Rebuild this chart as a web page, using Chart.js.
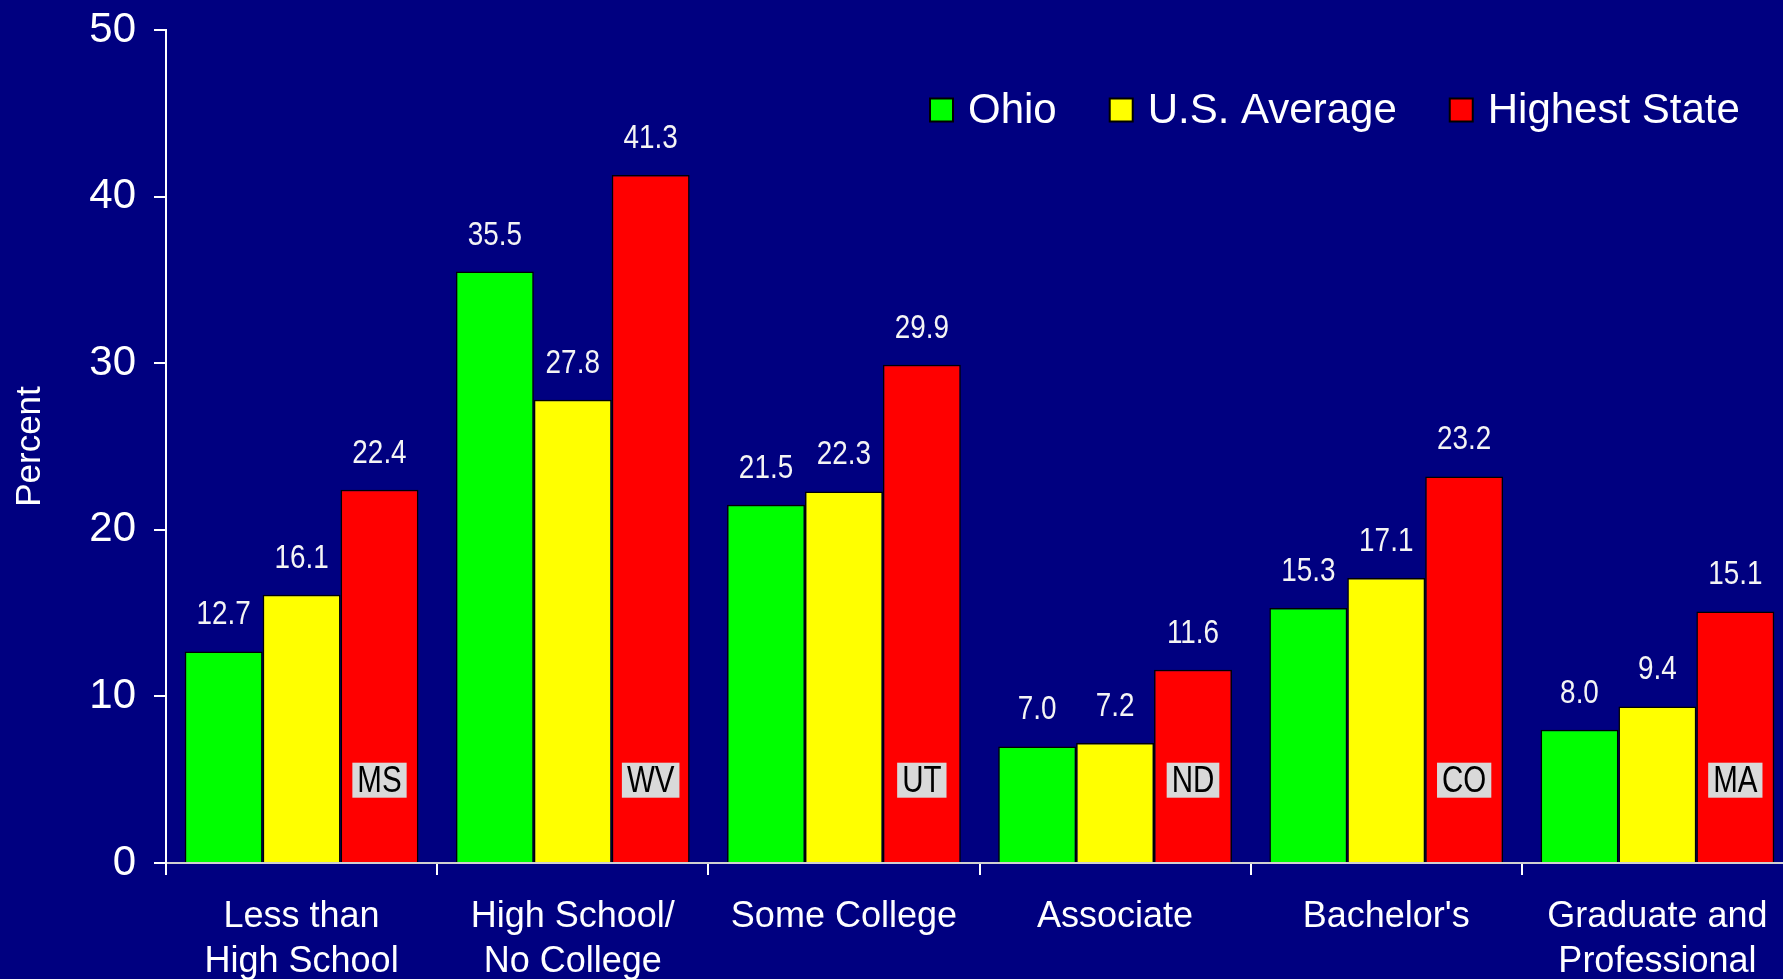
<!DOCTYPE html>
<html>
<head>
<meta charset="utf-8">
<script src="https://cdn.jsdelivr.net/npm/chart.js@4"></script>
<style>
html, body { margin: 0; padding: 0; background: #000080; overflow: hidden; }
</style>
</head>
<body>
<canvas id="attainment" width="1800" height="979"></canvas>
<script>
var categories = [['Less than', 'High School'], ['High School/', 'No College'], 'Some College', 'Associate', "Bachelor's", ['Graduate and', 'Professional']];
var ohio = [12.7, 35.5, 21.5, 7.0, 15.3, 8.0];
var us_average = [16.1, 27.8, 22.3, 7.2, 17.1, 9.4];
var highest_state = [22.4, 41.3, 29.9, 11.6, 23.2, 15.1];
var highest_state_names = ['MS', 'WV', 'UT', 'ND', 'CO', 'MA'];
var y_ticks = [0, 10, 20, 30, 40, 50];

var sans = '"Liberation Sans", Arial, sans-serif';

// narrow text: squeeze the regular face horizontally
function narrowText(ctx, text, x, y) {
    ctx.save();
    ctx.translate(x, y);
    ctx.scale(0.82, 1);
    ctx.fillText(text, 0, 0);
    ctx.restore();
}

// numbers above every bar
var valueLabels = {
    id: 'valueLabels',
    afterDatasetsDraw(chart) {
        var ctx = chart.ctx;
        ctx.save();
        ctx.font = '34px ' + sans;
        ctx.fillStyle = '#f4f4f4';
        ctx.textAlign = 'center';
        ctx.textBaseline = 'alphabetic';
        chart.data.datasets.forEach((ds, i) => {
            chart.getDatasetMeta(i).data.forEach((bar, j) => {
                narrowText(ctx, ds.data[j].toFixed(1), bar.x, bar.y - 27);
            });
        });
        ctx.restore();
    }
};

// state abbreviation boxes inside the red bars
var stateLabels = {
    id: 'stateLabels',
    afterDatasetsDraw(chart) {
        var ctx = chart.ctx;
        var y = chart.scales.y.getPixelForValue(5);
        ctx.save();
        ctx.font = '36px ' + sans;
        ctx.textAlign = 'center';
        ctx.textBaseline = 'middle';
        chart.getDatasetMeta(2).data.forEach((bar, j) => {
            var t = highest_state_names[j];
            var w = ctx.measureText(t).width * 0.82 + 10;
            ctx.fillStyle = '#d9d9d9';
            ctx.fillRect(bar.x - w / 2, y - 17, w, 35);
            ctx.fillStyle = '#000000';
            narrowText(ctx, t, bar.x, y + 2);
        });
        ctx.restore();
    }
};

// legend row in the top right corner of the plot
var legendRow = {
    id: 'legendRow',
    afterDraw(chart) {
        var ctx = chart.ctx;
        var x = 930, y = 110, box = 23;
        ctx.save();
        ctx.font = '42px ' + sans;
        ctx.textBaseline = 'middle';
        ctx.textAlign = 'left';
        chart.data.datasets.forEach(ds => {
            ctx.fillStyle = ds.backgroundColor;
            ctx.fillRect(x, y - box / 2, box, box);
            ctx.strokeStyle = '#000000';
            ctx.lineWidth = 2;
            ctx.strokeRect(x, y - box / 2, box, box);
            x += box + 15;
            ctx.fillStyle = '#ffffff';
            ctx.fillText(ds.label, x, y + 1);
            x += ctx.measureText(ds.label).width + 53;
        });
        ctx.restore();
    }
};

var canvas = document.getElementById('attainment');
var myChart = new Chart(canvas, {
    type: 'bar',
    data: {
        labels: categories,
        datasets: [
            {label: 'Ohio', data: ohio, backgroundColor: '#00ff00'},
            {label: 'U.S. Average', data: us_average, backgroundColor: '#ffff00'},
            {label: 'Highest State', data: highest_state, backgroundColor: '#ff0000'}
        ]
    },
    options: {
        responsive: false,
        animation: false,
        events: [],
        datasets: {
            bar: {
                borderColor: '#000000',
                borderWidth: 1.5,
                categoryPercentage: 0.862,
                barPercentage: 1.0
            }
        },
        layout: {padding: {top: 30, right: 7, bottom: 0, left: 0}},
        plugins: {
            legend: {display: false},
            tooltip: {enabled: false}
        },
        scales: {
            x: {
                afterFit: function(s) { s.height = 116; },
                border: {color: '#d0d0d0', width: 2},
                grid: {drawOnChartArea: false, drawTicks: true, tickLength: 12, color: '#ffffff', lineWidth: 2},
                ticks: {
                    color: '#ffffff',
                    padding: 20,
                    maxRotation: 0,
                    autoSkip: false,
                    font: {family: sans, size: 36, lineHeight: 1.25}
                }
            },
            y: {
                min: 0,
                max: 50,
                afterFit: function(s) {
                    s.width = 166;
                    s.paddingTop = 0;
                    s.paddingBottom = 0;
                },
                afterBuildTicks: function(s) { s.ticks = y_ticks.map(v => ({value: v})); },
                border: {color: '#ffffff', width: 2},
                grid: {drawOnChartArea: false, drawTicks: true, tickLength: 12, color: '#ffffff', lineWidth: 2},
                ticks: {
                    color: '#ffffff',
                    padding: 18,
                    font: {family: sans, size: 42}
                },
                title: {
                    display: true,
                    text: 'Percent',
                    color: '#ffffff',
                    padding: {top: 9, bottom: 0},
                    font: {family: sans, size: 35}
                }
            }
        }
    },
    plugins: [valueLabels, stateLabels, legendRow]
});
window.myChart = myChart;
</script>
</body>
</html>
